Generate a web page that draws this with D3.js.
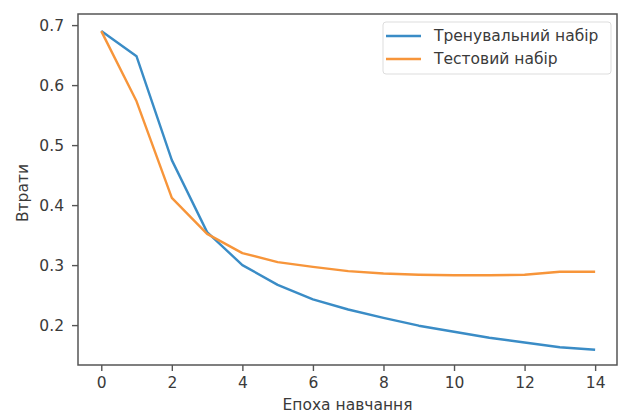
<!DOCTYPE html>
<html>
<head>
<meta charset="utf-8">
<script src="https://cdn.jsdelivr.net/npm/d3@7"></script>
<style>
  body { margin: 0; background: #fff; }
  svg { display: block; font-family: "DejaVu Sans", sans-serif; }
</style>
</head>
<body>
<svg id="chart" width="621" height="416"></svg>
<script>
// epochs and losses
var epochs = [0, 1, 2, 3, 4, 5, 6, 7, 8, 9, 10, 11, 12, 13, 14];
var trainLoss = [0.690, 0.648, 0.475, 0.355, 0.300, 0.267, 0.243, 0.226, 0.212, 0.199, 0.189, 0.179, 0.171, 0.163, 0.159];
var testLoss = [0.690, 0.573, 0.412, 0.352, 0.320, 0.305, 0.297, 0.290, 0.286, 0.284, 0.283, 0.283, 0.284, 0.289, 0.289];
var xTicks = [0, 2, 4, 6, 8, 10, 12, 14];
var yTicks = [0.2, 0.3, 0.4, 0.5, 0.6, 0.7];
var seriesNames = ["Тренувальний набір", "Тестовий набір"];
var seriesColors = ["#3a8cc6", "#f7953a"];

var box = { left: 78, top: 14, right: 617, bottom: 365 };
var fontSize = "15.5px";
var svg = d3.select("#chart");

var x = d3.scaleLinear().domain([-0.66, 14.62]).range([box.left, box.right]);
var y = d3.scaleLinear().domain([0.1335, 0.7185]).range([box.bottom, box.top]);

var series = [trainLoss, testLoss];

var line = d3.line()
    .x(function (d, i) { return x(epochs[i]); })
    .y(function (d) { return y(d); });

series.forEach(function (s, k) {
    svg.append("path")
        .datum(s)
        .attr("fill", "none")
        .attr("stroke", seriesColors[k])
        .attr("stroke-width", 2.4)
        .attr("stroke-linejoin", "round")
        .attr("d", line);
});

// frame
svg.append("rect")
    .attr("x", box.left)
    .attr("y", box.top)
    .attr("width", box.right - box.left)
    .attr("height", box.bottom - box.top)
    .attr("fill", "none")
    .attr("stroke", "#555")
    .attr("stroke-width", 1.5);

var xAxis = d3.axisBottom(x).tickValues(xTicks).tickFormat(d3.format("d")).tickSize(6).tickPadding(6);
var yAxis = d3.axisLeft(y).tickValues(yTicks).tickFormat(d3.format(".1f")).tickSize(6).tickPadding(8);

var gx = svg.append("g").attr("transform", "translate(0," + box.bottom + ")").call(xAxis);
var gy = svg.append("g").attr("transform", "translate(" + box.left + ",0)").call(yAxis);

[gx, gy].forEach(function (g) {
    g.select(".domain").remove();
    g.selectAll(".tick line").attr("stroke", "#555").attr("stroke-width", 1.4);
    g.selectAll(".tick text")
        .attr("fill", "#3a3a3a")
        .style("font-size", fontSize)
        .style("font-family", "DejaVu Sans, sans-serif");
});

// axis titles
svg.append("text")
    .attr("x", (box.left + box.right) / 2)
    .attr("y", 410)
    .attr("text-anchor", "middle")
    .attr("fill", "#3a3a3a")
    .style("font-size", fontSize)
    .text("Епоха навчання");

svg.append("text")
    .attr("transform", "translate(28,193) rotate(-90)")
    .attr("text-anchor", "middle")
    .attr("fill", "#3a3a3a")
    .style("font-size", fontSize)
    .text("Втрати");

// legend
var legend = svg.append("g").attr("transform", "translate(383,22)");
legend.append("rect")
    .attr("width", 228)
    .attr("height", 52)
    .attr("rx", 3)
    .attr("fill", "#fff")
    .attr("stroke", "#ddd");

seriesNames.forEach(function (name, k) {
    var row = legend.append("g").attr("transform", "translate(0," + (14 + k * 23) + ")");
    row.append("line")
        .attr("x1", 3).attr("x2", 38)
        .attr("stroke", seriesColors[k])
        .attr("stroke-width", 2.4);
    row.append("text")
        .attr("x", 51)
        .attr("dy", "0.35em")
        .attr("fill", "#3a3a3a")
        .style("font-size", fontSize)
        .text(name);
});
</script>
</body>
</html>
